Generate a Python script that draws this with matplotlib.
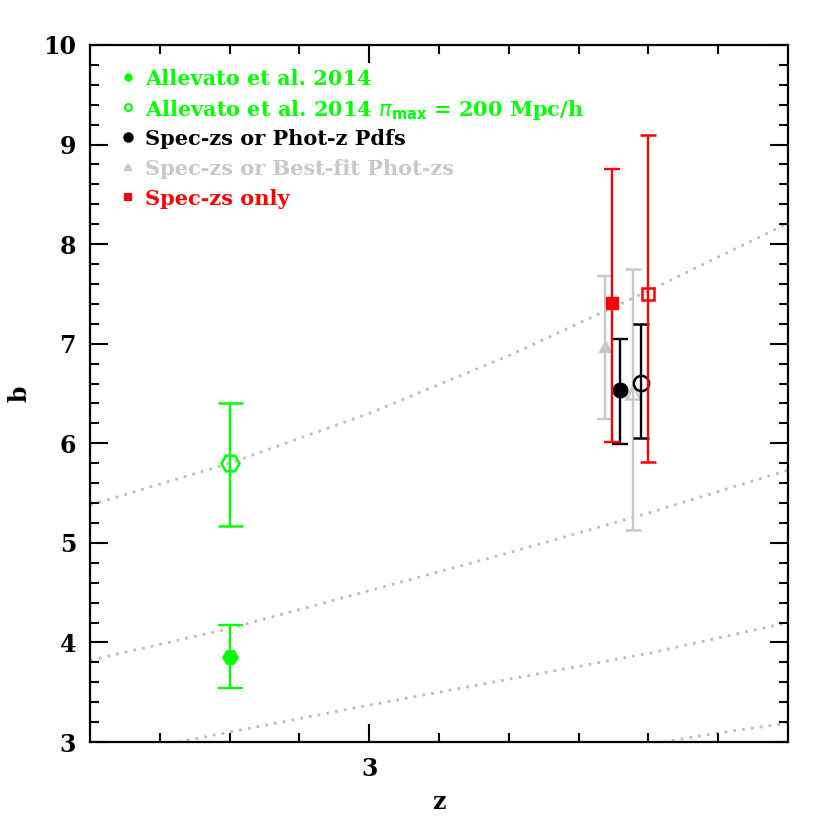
import matplotlib
matplotlib.use("Agg")
import matplotlib.pyplot as plt
from matplotlib.ticker import FixedLocator, MultipleLocator
import numpy as np

# ---- data ----
# Allevato et al. 2014
all_z = [2.80]
all_b = [3.855]
all_lo = [3.54]
all_hi = [4.175]
allpi_z = [2.80]
allpi_b = [5.80]
allpi_lo = [5.17]
allpi_hi = [6.40]

# Spec-zs or Phot-z Pdfs (filled, open)
pdf_z = [3.359, 3.389]
pdf_b = [6.535, 6.605]
pdf_lo = [5.99, 6.05]
pdf_hi = [7.05, 7.20]

# Spec-zs or Best-fit Phot-zs (filled, open)
bf_z = [3.338, 3.378]
bf_b = [6.98, 6.515]
bf_lo = [6.24, 5.13]
bf_hi = [7.68, 7.75]

# Spec-zs only (filled, open)
sp_z = [3.348, 3.400]
sp_b = [7.41, 7.50]
sp_lo = [6.01, 5.81]
sp_hi = [8.755, 9.10]

# model bias curves (dotted)
c1_z = [2.6, 2.8, 3.0, 3.2, 3.4, 3.6]
c1_b = [5.38, 5.80, 6.30, 6.88, 7.53, 8.21]
c2_z = [2.6, 2.8, 3.0, 3.2, 3.4, 3.6]
c2_b = [3.82, 4.14, 4.52, 4.90, 5.30, 5.73]
c3_z = [2.726, 2.8, 3.0, 3.2, 3.4, 3.6]
c3_b = [3.00, 3.10, 3.37, 3.63, 3.89, 4.20]
c4_z = [3.421, 3.5, 3.6]
c4_b = [3.00, 3.09, 3.19]

legend_labels = ["Allevato et al. 2014",
                 "Allevato et al. 2014 $\\pi_{\\mathbf{max}}$ = 200 Mpc/h",
                 "Spec-zs or Phot-z Pdfs",
                 "Spec-zs or Best-fit Phot-zs",
                 "Spec-zs only"]

GREEN = "#00ff00"
GRAY = "#c8c8c8"
RED = "#ff0000"
BLACK = "#000000"

fig = plt.figure(figsize=(8.3, 8.3), dpi=100)
ax = fig.add_axes([90/830, 1-742/830, 698/830, 697/830])

for cz, cb in [(c1_z, c1_b), (c2_z, c2_b), (c3_z, c3_b), (c4_z, c4_b)]:
    ax.plot(cz, cb, color="#bdbdbd", lw=2.0, ls=(0, (1, 2.2)), zorder=1)

def errs(b, lo, hi):
    b = np.array(b); return [b - np.array(lo), np.array(hi) - b]

ELW = 1.7
# gray
ax.errorbar(bf_z[:1], bf_b[:1], yerr=errs(bf_b[:1], bf_lo[:1], bf_hi[:1]), fmt="^", ms=9,
            color=GRAY, mfc=GRAY, mec=GRAY, ecolor=GRAY, elinewidth=ELW, capsize=6, capthick=ELW, zorder=2)
ax.errorbar(bf_z[1:], bf_b[1:], yerr=errs(bf_b[1:], bf_lo[1:], bf_hi[1:]), fmt="^", ms=10,
            color=GRAY, mfc="none", mec=GRAY, mew=1.8, ecolor=GRAY, elinewidth=ELW, capsize=6, capthick=ELW, zorder=2)
# black
ax.errorbar(pdf_z[:1], pdf_b[:1], yerr=errs(pdf_b[:1], pdf_lo[:1], pdf_hi[:1]), fmt="o", ms=10.5,
            color=BLACK, mfc=BLACK, mec=BLACK, ecolor=BLACK, elinewidth=ELW, capsize=6, capthick=ELW, zorder=3)
ax.errorbar(pdf_z[1:], pdf_b[1:], yerr=errs(pdf_b[1:], pdf_lo[1:], pdf_hi[1:]), fmt="o", ms=11,
            color=BLACK, mfc="none", mec=BLACK, mew=1.8, ecolor=BLACK, elinewidth=ELW, capsize=6, capthick=ELW, zorder=3)
# red
ax.errorbar(sp_z[:1], sp_b[:1], yerr=errs(sp_b[:1], sp_lo[:1], sp_hi[:1]), fmt="s", ms=8.5,
            color=RED, mfc=RED, mec=RED, ecolor=RED, elinewidth=ELW, capsize=6, capthick=ELW, zorder=4)
ax.errorbar(sp_z[1:], sp_b[1:], yerr=errs(sp_b[1:], sp_lo[1:], sp_hi[1:]), fmt="s", ms=9,
            color=RED, mfc="none", mec=RED, mew=1.8, ecolor=RED, elinewidth=ELW, capsize=6, capthick=ELW, zorder=4)
# green
ax.errorbar(all_z, all_b, yerr=errs(all_b, all_lo, all_hi), fmt="H", ms=11,
            color=GREEN, mfc=GREEN, mec=GREEN, ecolor=GREEN, elinewidth=ELW, capsize=9, capthick=ELW, zorder=4)
ax.errorbar(allpi_z, allpi_b, yerr=errs(allpi_b, allpi_lo, allpi_hi), fmt="H", ms=13,
            color=GREEN, mfc="none", mec=GREEN, mew=1.8, ecolor=GREEN, elinewidth=ELW, capsize=9, capthick=ELW, zorder=4)

ax.set_xlim(2.6, 3.6)
ax.set_ylim(3, 10)
ax.xaxis.set_major_locator(FixedLocator([3.0]))
ax.xaxis.set_minor_locator(FixedLocator([2.7, 2.8, 2.9, 3.1, 3.2, 3.3, 3.4, 3.5]))
ax.set_xticklabels(["3"])
ax.yaxis.set_major_locator(MultipleLocator(1))
ax.yaxis.set_minor_locator(MultipleLocator(0.2))

ax.tick_params(which="both", direction="in", top=True, right=True, width=1.5, color="black")
ax.tick_params(which="major", length=13)
ax.tick_params(axis="x", which="major", pad=11)
ax.tick_params(axis="y", which="major", pad=10)
ax.tick_params(which="minor", length=6.5)
for s in ax.spines.values():
    s.set_linewidth(1.6)

tickfont = dict(family="DejaVu Serif", weight="bold", size=17)
for lab in ax.get_xticklabels() + ax.get_yticklabels():
    lab.set_fontfamily("DejaVu Serif")
    lab.set_fontweight("bold")
    lab.set_fontsize(17)

ax.set_xlabel("z", fontdict=tickfont, labelpad=6)
ax.set_ylabel("b", fontdict=tickfont)
ax.yaxis.set_label_coords(-0.084, 0.5)

# legend (manual, text coloured)
leg_colors = [GREEN, GREEN, BLACK, GRAY, RED]
leg_markers = ["o", "o", "o", "^", "s"]
leg_fill = [True, False, True, True, True]
leg_ms = [4.5, 5, 6, 5, 4.5]
y0 = 1 - (77 - 45) / 697
dy = 30 / 697
x_m = (128 - 90) / 698
x_t = (145 - 90) / 698
for i, (lab, c, m, f, ms) in enumerate(zip(legend_labels, leg_colors, leg_markers, leg_fill, leg_ms)):
    yy = y0 - i * dy
    ax.plot([x_m], [yy], marker=m, ms=ms, color=c, mfc=c if f else "white", mec=c, mew=1.5,
            transform=ax.transAxes, clip_on=False, ls="none")
    ax.text(x_t, yy, lab, color=c, transform=ax.transAxes, va="center_baseline", ha="left",
            family="DejaVu Serif", weight="bold", fontsize=15)

fig.savefig("out.png", dpi=100)
